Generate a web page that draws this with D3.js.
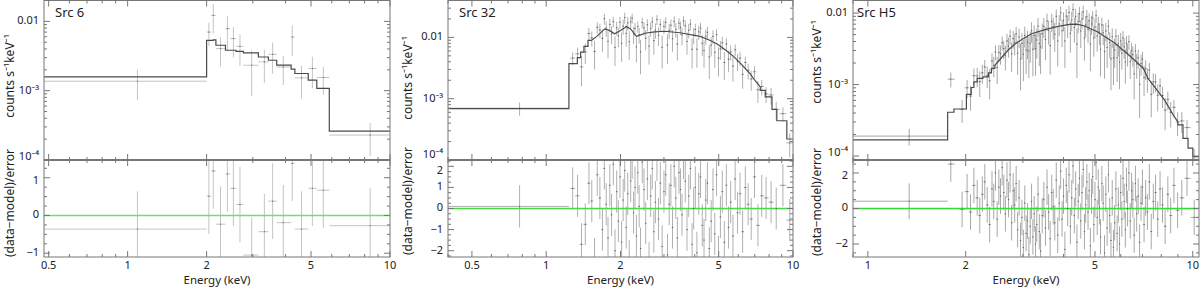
<!DOCTYPE html>
<html>
<head>
<meta charset="utf-8">
<script src="https://cdn.jsdelivr.net/npm/d3@7"></script>
<style>
  body { margin: 0; background: #fff; }
  text { font-family: "Noto Sans", sans-serif; fill: #222; }
</style>
</head>
<body>
<svg id="chart" width="1200" height="287"></svg>
<script>
// Rates are in units of 1e-3 counts s^-1 keV^-1

// ---- Src 6: [eLo, eHi, E, rate, err, resid] ----
const src6Bins = [
  [0.48, 2.0, 1.09, 1.37, 0.64, -0.36],
  [2.0, 2.08, 2.04, 7.0, 2.6, 0.51],
  [2.08, 2.17, 2.12, 12.2, 5.5, 1.18],
  [2.17, 2.36, 2.26, 4.04, 1.8, -0.23],
  [2.36, 2.46, 2.40, 7.85, 4.0, 1.10],
  [2.46, 2.59, 2.53, 5.64, 2.6, 0.72],
  [2.59, 2.76, 2.68, 4.37, 2.1, 0.29],
  [2.76, 3.15, 2.97, 2.33, 1.5, -1.05],
  [3.15, 3.44, 3.32, 2.60, 1.3, -0.43],
  [3.44, 3.70, 3.57, 3.35, 1.6, 0.38],
  [3.70, 4.20, 3.92, 2.20, 1.0, -0.19],
  [4.20, 4.34, 4.24, 5.94, 2.8, 1.38],
  [4.34, 4.88, 4.60, 1.53, 0.76, -0.36],
  [4.88, 5.26, 5.06, 2.09, 1.0, 0.72],
  [5.26, 5.87, 5.57, 1.55, 0.67, 0.67],
  [5.87, 10.0, 8.4, 0.229, 0.115, -0.27]
];
// model steps [eLo, value]
const src6Model = [[0.48, 1.58], [2.0, 5.33], [2.12, 5.4], [2.17, 4.52], [2.36, 3.83], [2.59, 3.7],
  [2.76, 3.5], [3.15, 3.06], [3.44, 2.75], [3.70, 2.33], [4.20, 2.04], [4.34, 1.77], [4.88, 1.42],
  [5.26, 1.08], [5.87, 0.261]];

// ---- Src 32 ----
const src32Wide = [[0.4, 1.236, 0.78, 0.70, 0.17, 0.1]];
const src32E = [1.28,1.34,1.39,1.44,1.49,1.53,1.57,1.61,1.65,1.69,
  1.72,1.75,1.78,1.81,1.84,1.87,1.90,1.93,1.96,1.99,
  2.02,2.05,2.08,2.11,2.14,2.17,2.20,2.23,2.26,2.29,
  2.32,2.35,2.38,2.41,2.45,2.49,2.53,2.57,2.61,2.65,
  2.69,2.73,2.77,2.81,2.85,2.90,2.95,3.00,3.05,3.10,
  3.15,3.20,3.25,3.30,3.35,3.40,3.45,3.50,3.55,3.60,
  3.66,3.72,3.78,3.84,3.90,3.96,4.02,4.08,4.15,4.22,
  4.29,4.36,4.43,4.50,4.58,4.66,4.74,4.82,4.90,4.99,
  5.08,5.17,5.27,5.37,5.48,5.59,5.71,5.83,5.96,6.10,
  6.25,6.41,6.58,6.77,6.98,7.21,7.47,7.78,8.15,8.55,
  9.1,9.7];
const src32Rate = [4.6,5.4,3.3,5.8,11.6,9.8,5.9,14.6,13.2,9.6,
  20.2,14.2,8.6,16.3,11.4,18.1,6.9,14.4,10.6,17.7,
  8.0,15.3,21.0,11.6,17.3,8.5,18.0,20.5,11.4,14.0,
  7.0,15.1,11.1,5.8,17.5,14.2,9.7,16.1,7.2,13.9,
  18.0,8.9,13.2,19.5,10.9,16.3,6.9,15.1,17.6,7.5,
  13.0,15.8,9.5,18.3,13.6,7.8,17.0,14.6,10.9,18.7,
  15.4,8.6,13.1,16.5,6.4,11.0,13.5,6.4,12.3,14.2,
  8.0,6.1,10.5,12.1,4.8,7.5,10.4,5.7,11.1,4.6,
  6.5,8.2,3.9,7.8,4.4,5.8,3.4,6.3,4.1,4.6,
  2.5,3.9,2.9,2.1,2.75,1.4,1.58,1.2,1.15,0.67,
  0.57,0.19];
const src32Err = [1.1,1.4,1.7,2.1,2.7,2.7,2.9,3.1,3.5,3.8,
  4.1,4.0,4.0,3.8,3.7,3.6,3.5,3.6,3.7,3.9,
  4.0,4.2,4.3,4.5,4.4,4.2,4.1,3.8,3.6,3.4,
  3.1,3.2,3.2,3.3,3.4,3.5,3.5,3.6,3.6,3.6,
  3.7,3.7,3.7,3.7,3.7,3.7,3.8,3.8,3.8,3.8,
  3.7,3.7,3.7,3.7,3.6,3.6,3.6,3.6,3.5,3.5,
  3.5,3.4,3.4,3.4,3.3,3.3,3.2,3.2,3.2,3.1,
  3.0,2.9,2.9,2.8,2.7,2.6,2.6,2.5,2.4,2.3,
  2.2,2.0,1.9,1.8,1.7,1.6,1.5,1.4,1.3,1.2,
  1.05,0.95,0.85,0.75,0.65,0.55,0.45,0.35,0.35,0.22,
  0.15,0.08];
const src32Resid = [0.95,0.6,-1.7,-0.75,1.2,0.35,-2.4,1.6,0.5,-1.0,
  1.9,0.2,-1.4,1.1,-0.3,2.1,-2.0,0.8,-0.6,1.5,
  -1.6,0.4,1.8,-0.9,0.7,-2.5,1.3,2.4,-0.2,1.0,
  -1.3,1.7,0.1,-1.9,2.2,0.9,-0.7,1.4,-2.6,0.6,
  1.9,-1.1,0.3,2.3,-0.5,1.2,-1.8,0.8,1.6,-2.2,
  0.2,1.1,-0.9,2.0,0.5,-1.4,1.7,0.9,-0.3,2.4,
  1.3,-1.0,0.6,1.9,-1.7,0.0,1.0,-2.1,0.7,1.5,
  -0.8,-1.5,0.4,1.2,-1.9,-0.6,0.9,-1.2,1.6,-2.3,
  -0.4,0.8,-1.6,1.1,-0.9,0.3,-1.3,1.4,-0.2,0.7,
  -1.1,1.0,0.2,-0.5,1.5,-0.8,0.6,0.5,0.3,0.0,
  1.1,-0.55];
const src32ModelHead = [[0.4, 0.69], [1.236, 3.73], [1.337, 4.68], [1.379, 5.77], [1.422, 7.14], [1.477, 8.93]];
const src32ModelSmooth = [[1.524, 8.93], [1.60, 10.3], [1.726, 13.8], [1.80, 13.0], [1.895, 11.5], [2.0, 13.0],
  [2.115, 15.1], [2.2, 13.6], [2.32, 10.4], [2.4, 10.9], [2.51, 11.7], [2.75, 12.3], [3.02, 12.6],
  [3.48, 11.9], [4.2, 10.4], [4.6, 9.0], [4.91, 7.9], [5.31, 6.3], [5.74, 4.9], [6.2, 3.6],
  [6.71, 2.55], [7.0, 2.0], [7.37, 1.56]];
const src32ModelTail = [[7.37, 1.37], [7.72, 1.07], [8.22, 0.67], [8.6, 0.437], [9.44, 0.22]];

// ---- Src H5 ----
const h5Wide = [[0.9, 1.76, 1.34, 0.19, 0.05, 0.41], [1.76, 1.85, 1.80, 1.19, 0.28, 2.5]];
const h5E = [1.95,2.02,2.07,2.12,2.17,2.21,2.25,2.29,2.33,2.37,
  2.41,2.44,2.47,2.50,2.53,2.56,2.59,2.62,2.65,2.68,
  2.71,2.74,2.77,2.80,2.83,2.86,2.89,2.92,2.95,2.98,
  3.01,3.04,3.07,3.10,3.13,3.16,3.19,3.22,3.25,3.28,
  3.31,3.34,3.37,3.40,3.44,3.48,3.52,3.56,3.60,3.64,
  3.68,3.72,3.76,3.80,3.84,3.88,3.92,3.96,4.00,4.04,
  4.08,4.12,4.16,4.20,4.24,4.28,4.32,4.36,4.40,4.44,
  4.48,4.52,4.56,4.60,4.64,4.68,4.72,4.76,4.80,4.84,
  4.88,4.92,4.96,5.00,5.04,5.08,5.12,5.16,5.20,5.25,
  5.30,5.35,5.40,5.45,5.50,5.55,5.60,5.65,5.70,5.75,
  5.80,5.85,5.90,5.95,6.00,6.05,6.10,6.15,6.20,6.25,
  6.30,6.36,6.42,6.48,6.54,6.60,6.66,6.72,6.79,6.86,
  6.93,7.00,7.08,7.16,7.25,7.35,7.45,7.56,7.68,7.80,
  7.93,8.07,8.22,8.38,8.55,8.75,8.98,9.25,9.6,10.1];
const h5Rate = [0.45,0.90,0.69,1.33,1.32,1.10,1.46,1.76,1.34,1.13,
  2.14,1.85,2.85,1.73,2.82,2.70,3.84,3.19,2.54,4.07,
  3.45,4.75,2.69,4.39,3.84,5.12,2.74,4.65,2.29,3.75,
  2.65,4.88,3.03,3.94,2.95,3.77,5.67,3.13,4.88,3.2,
  4.20,6.58,3.75,3.37,5.14,6.51,4.26,7.75,5.74,3.52,
  7.60,6.44,5.08,9.0,4.07,7.06,10.1,5.67,7.91,4.07,
  9.05,6.89,10.2,5.22,8.02,11.2,6.28,8.91,3.68,7.63,
  9.79,5.62,8.26,10.4,4.47,6.86,8.84,6.00,7.78,3.67,
  7.06,8.56,4.49,6.40,9.21,4.80,6.99,5.41,3.11,6.83,
  5.30,2.89,5.63,3.31,6.55,3.88,2.30,4.68,2.36,3.06,
  4.74,2.36,3.71,2.06,4.09,2.75,4.49,3.36,2.07,3.79,
  2.76,3.98,2.09,3.01,2.61,1.41,2.94,1.94,2.37,1.01,
  1.97,2.26,1.26,1.67,1.22,1.60,0.73,1.09,1.09,0.71,
  0.96,0.70,0.44,0.62,0.41,0.48,0.30,0.31,0.25,0.086];
const h5Err = [0.16,0.26,0.26,0.35,0.40,0.43,0.43,0.45,0.45,0.51,
  0.59,0.59,0.67,0.71,0.76,0.81,0.85,0.91,0.96,1.02,
  1.07,1.13,1.18,1.23,1.28,1.33,1.37,1.41,1.46,1.50,
  1.54,1.59,1.63,1.67,1.72,1.76,1.80,1.83,1.85,1.87,
  1.90,1.92,1.94,1.97,2.0,2.03,2.06,2.09,2.11,2.14,
  2.17,2.20,2.22,2.25,2.28,2.30,2.32,2.33,2.36,2.37,
  2.39,2.41,2.43,2.44,2.44,2.44,2.44,2.45,2.45,2.43,
  2.40,2.38,2.36,2.34,2.32,2.29,2.25,2.21,2.18,2.14,
  2.10,2.07,2.03,1.99,1.95,1.92,1.88,1.85,1.81,1.77,
  1.73,1.68,1.64,1.60,1.55,1.51,1.47,1.42,1.38,1.34,
  1.30,1.27,1.24,1.20,1.17,1.13,1.10,1.07,1.04,1.0,
  0.97,0.93,0.89,0.84,0.81,0.79,0.76,0.74,0.71,0.67,
  0.64,0.61,0.57,0.51,0.45,0.41,0.38,0.35,0.31,0.29,
  0.26,0.23,0.21,0.18,0.16,0.13,0.11,0.10,0.07,0.04];
const h5Resid = [-0.05,0.95,-0.2,1.3,0.6,-0.4,0.8,1.5,0.2,-0.9,
  1.1,0.4,2.0,-0.6,1.2,0.7,2.3,0.9,-0.3,1.6,
  0.5,1.9,-0.8,1.0,0.2,1.4,-1.2,0.6,-1.8,-0.5,
  -2.2,0.3,-1.4,-0.7,-2.6,-1.0,0.4,-1.6,-0.3,-2.0,
  -0.9,0.8,-1.3,-2.4,-0.4,0.5,-1.1,1.2,-0.2,-1.7,
  0.9,0.1,-0.8,1.6,-1.5,0.3,2.1,-0.6,0.7,-2.3,
  1.3,0.0,1.9,-1.0,0.6,2.4,-0.4,1.1,-1.9,0.4,
  1.7,-0.7,0.9,2.2,-1.3,0.2,1.5,-0.2,1.0,-2.1,
  0.7,1.8,-0.9,0.5,2.6,-0.5,1.2,0.1,-1.6,1.4,
  0.3,-2.5,0.8,-1.1,1.9,-0.4,-1.8,0.6,-2.2,-0.8,
  1.1,-1.4,0.2,-2.0,0.9,-0.6,1.7,0.4,-1.2,1.3,
  0.0,2.0,-0.7,1.0,0.5,-1.5,1.4,-0.3,0.7,-1.9,
  0.3,1.2,-0.9,0.6,-0.2,1.5,-1.3,0.4,0.9,-0.6,
  1.1,0.2,-1.0,0.8,-0.4,1.3,-0.1,0.6,1.7,-0.5];
const h5ModelHead = [[0.9, 0.168], [1.76, 0.41], [1.84, 0.455], [2.01, 0.73], [2.08, 0.91], [2.12, 1.09],
  [2.17, 1.22], [2.26, 1.28], [2.35, 1.46], [2.40, 1.68]];
const h5ModelSmooth = [[2.46, 1.86], [2.58, 2.39], [2.70, 3.02], [2.83, 3.66], [2.97, 4.25], [3.19, 5.15],
  [3.51, 5.86], [3.85, 6.53], [4.17, 6.95], [4.4, 7.0], [4.65, 6.6], [5.1, 5.43], [5.75, 3.82],
  [6.46, 2.43], [7.05, 1.68], [7.28, 1.22], [7.7, 0.88], [8.19, 0.605], [8.77, 0.355], [9.0, 0.30]];
const h5ModelTail = [[9.0, 0.272], [9.33, 0.177], [9.67, 0.129], [10.0, 0.098]];

const svg = d3.select("#chart");
const defs = svg.append("defs");

// turn step lists into polyline vertices
function stepPoints(steps, endE) {
  const out = [];
  steps.forEach((s, i) => {
    const e2 = i < steps.length - 1 ? steps[i + 1][0] : endE;
    out.push([s[0], s[1]], [e2, s[1]]);
  });
  return out;
}

// bins from neighbouring channel centres
function denseBins(E, rate, err, resid) {
  return E.map((e, i) => {
    const prev = i > 0 ? E[i - 1] : e * e / E[i + 1];
    const next = i < E.length - 1 ? E[i + 1] : e * e / E[i - 1];
    return { lo: Math.sqrt(prev * e), hi: Math.sqrt(e * next), e: e, rate: rate[i], err: err[i], r: resid[i] };
  });
}

function wideBins(rows) {
  return rows.map(d => ({ lo: d[0], hi: d[1], e: d[2], rate: d[3], err: d[4], r: d[5] }));
}

function logTicks(domain) {
  const t = [];
  for (let k = -5; k <= 1; k++) {
    for (let m = 1; m <= 9; m++) {
      const v = m * Math.pow(10, k);
      if (v >= domain[0] * 0.9999 && v <= domain[1] * 1.0001) t.push(v);
    }
  }
  return t;
}

function drawPanel(p) {
  const yMid = 160, yBot = 257, yTopEdge = 0.5;
  const x = d3.scaleLog().domain(p.xDomain).range([p.left, p.right]);
  const y = d3.scaleLog().domain(p.yDomain).range([yMid, yTopEdge]);
  const yr = d3.scaleLinear().domain(p.rDomain).range([yBot, yMid]);

  defs.append("clipPath").attr("id", "ct" + p.id).append("rect")
    .attr("x", p.left).attr("y", yTopEdge).attr("width", p.right - p.left).attr("height", yMid - yTopEdge);
  defs.append("clipPath").attr("id", "cr" + p.id).append("rect")
    .attr("x", p.left).attr("y", yMid).attr("width", p.right - p.left).attr("height", yBot - yMid);

  const g = svg.append("g");
  const top = g.append("g").attr("clip-path", `url(#ct${p.id})`);
  const res = g.append("g").attr("clip-path", `url(#cr${p.id})`);

  p.bins.forEach(d => {
    const v = d.rate * 1e-3;
    const up = (d.rate + d.err) * 1e-3;
    const lo = Math.max(d.rate - d.err, d.rate * 0.02) * 1e-3;
    top.append("line").attr("x1", x(d.lo)).attr("x2", x(d.hi)).attr("y1", y(v)).attr("y2", y(v))
      .attr("stroke", p.barColor).attr("stroke-width", 1);
    top.append("line").attr("x1", x(d.e)).attr("x2", x(d.e)).attr("y1", y(up)).attr("y2", y(lo))
      .attr("stroke", p.barColor).attr("stroke-width", 1);
    res.append("line").attr("x1", x(d.lo)).attr("x2", x(d.hi)).attr("y1", yr(d.r)).attr("y2", yr(d.r))
      .attr("stroke", p.barColor).attr("stroke-width", 1);
    res.append("line").attr("x1", x(d.e)).attr("x2", x(d.e)).attr("y1", yr(d.r + 1)).attr("y2", yr(d.r - 1))
      .attr("stroke", p.barColor).attr("stroke-width", 1);
  });

  // zero line in residual panel
  res.append("line")
    .attr("x1", p.left).attr("x2", p.right)
    .attr("y1", yr(0)).attr("y2", yr(0))
    .attr("stroke", p.green).attr("stroke-width", 1.6);

  // small dark centre marks
  p.bins.forEach(d => {
    top.append("rect").attr("x", x(d.e) - 0.5).attr("y", y(d.rate * 1e-3) - 0.5)
      .attr("width", 1).attr("height", 1).attr("fill", "#555");
    res.append("rect").attr("x", x(d.e) - 0.5).attr("y", yr(d.r) - 0.5)
      .attr("width", 1).attr("height", 1).attr("fill", "#555");
  });

  // model
  const line = d3.line().x(d => x(d[0])).y(d => y(d[1] * 1e-3));
  top.append("path")
    .datum(p.model)
    .attr("fill", "none")
    .attr("stroke", "#4a4a4a")
    .attr("stroke-width", 1.2)
    .attr("d", line);

  // frames
  const frame = "#777";
  g.append("rect").attr("x", p.left).attr("y", yTopEdge).attr("width", p.right - p.left)
    .attr("height", yMid - yTopEdge).attr("fill", "none").attr("stroke", frame);
  g.append("rect").attr("x", p.left).attr("y", yMid).attr("width", p.right - p.left)
    .attr("height", yBot - yMid).attr("fill", "none").attr("stroke", frame);
  g.append("line").attr("x1", p.left).attr("x2", p.right).attr("y1", yMid).attr("y2", yMid)
    .attr("stroke", frame).attr("stroke-width", 2);

  // x ticks on every horizontal edge
  const xt = logTicks(p.xDomain);
  const edges = [[yTopEdge, 1], [yMid, -1], [yMid, 1], [yBot, -1]];
  xt.forEach(v => {
    const major = p.xLabels.some(l => Math.abs(l - v) < 1e-9);
    const len = major ? 6 : 3;
    edges.forEach(([ey, dir]) => {
      g.append("line").attr("x1", x(v)).attr("x2", x(v)).attr("y1", ey).attr("y2", ey + dir * len)
        .attr("stroke", frame);
    });
  });
  p.xLabels.forEach(v => {
    g.append("text").attr("x", x(v)).attr("y", 268.5).attr("text-anchor", "middle")
      .attr("font-size", 11).text(String(v));
  });

  // y ticks, top panel
  logTicks(p.yDomain).forEach(v => {
    const major = Math.abs(Math.log10(v) - Math.round(Math.log10(v))) < 1e-9;
    const len = major ? 6 : 3;
    [[p.left, 1], [p.right, -1]].forEach(([ex, dir]) => {
      g.append("line").attr("x1", ex).attr("x2", ex + dir * len).attr("y1", y(v)).attr("y2", y(v))
        .attr("stroke", frame);
    });
  });
  p.yLabels.forEach(l => {
    g.append("text").attr("x", p.left - 5).attr("y", y(l[0]) - (l[0] < 2e-4 ? p.edgeNudge : 0))
      .attr("text-anchor", "end")
      .attr("dominant-baseline", "middle").attr("font-size", 11).text(l[1]);
  });

  // y ticks, residual panel
  const rt = d3.range(Math.ceil(p.rDomain[0] / p.rMinor) * p.rMinor, p.rDomain[1], p.rMinor);
  rt.forEach(v => {
    const major = p.rLabels.some(l => Math.abs(l - v) < 1e-6);
    const len = major ? 6 : 3;
    [[p.left, 1], [p.right, -1]].forEach(([ex, dir]) => {
      g.append("line").attr("x1", ex).attr("x2", ex + dir * len).attr("y1", yr(v)).attr("y2", yr(v))
        .attr("stroke", frame);
    });
  });
  p.rLabels.forEach(v => {
    g.append("text").attr("x", p.left - 5)
      .attr("y", yr(v) + (v === p.rLabels[p.rLabels.length - 1] ? p.edgeNudge : 0))
      .attr("text-anchor", "end")
      .attr("dominant-baseline", "middle").attr("font-size", 11)
      .text(v < 0 ? "\u2212" + Math.abs(v) : String(v));
  });

  // labels
  g.append("text").attr("x", p.titleX).attr("y", 17).attr("font-size", 13).attr("fill", "#111").text(p.title);
  g.append("text").attr("x", (p.left + p.right) / 2).attr("y", 284).attr("text-anchor", "middle")
    .attr("font-size", 11.5).text("Energy (keV)");
  g.append("text").attr("transform", `translate(${p.ylabX},${p.ylabTopY}) rotate(-90)`)
    .attr("text-anchor", "middle").attr("font-size", 12).text("counts s\u207B\u00B9keV\u207B\u00B9");
  g.append("text").attr("transform", `translate(${p.ylabX},${p.ylabResY}) rotate(-90)`)
    .attr("text-anchor", "middle").attr("font-size", 12).text("(data\u2212model)/error");
}

const yTickLabels = [[1e-2, "0.01"], [1e-3, "10\u207B\u00B3"], [1e-4, "10\u207B\u2074"]];

drawPanel({
  id: 1, left: 44, right: 390,
  xDomain: [0.48, 10], yDomain: [1e-4, 0.02], rDomain: [-1.1, 1.47],
  xLabels: [0.5, 1, 2, 5, 10], yLabels: yTickLabels, rLabels: [-1, 0, 1], rMinor: 0.25,
  bins: src6Bins.map(d => ({ lo: d[0], hi: d[1], e: d[2], rate: d[3], err: d[4], r: d[5] })),
  model: stepPoints(src6Model, 10), edgeNudge: 3,
  title: "Src 6", titleX: 55, ylabX: 14, ylabTopY: 76, ylabResY: 203,
  green: "#70dd70", barColor: "#c4c4c4"
});

drawPanel({
  id: 2, left: 448, right: 793,
  xDomain: [0.4, 10], yDomain: [1e-4, 0.04], rDomain: [-2.3, 2.3],
  xLabels: [0.5, 1, 2, 5, 10], yLabels: yTickLabels, rLabels: [-2, -1, 0, 1, 2], rMinor: 0.25,
  bins: wideBins(src32Wide).concat(denseBins(src32E, src32Rate, src32Err, src32Resid)),
  model: stepPoints(src32ModelHead, src32ModelSmooth[0][0])
    .concat(src32ModelSmooth, stepPoints(src32ModelTail, 10)), edgeNudge: 4.5,
  title: "Src 32", titleX: 459, ylabX: 412, ylabTopY: 78, ylabResY: 201,
  green: "#44dd44", barColor: "#b0b0b0"
});

drawPanel({
  id: 3, left: 853, right: 1199,
  xDomain: [0.9, 10.45], yDomain: [8.8e-5, 0.015], rDomain: [-2.73, 2.73],
  xLabels: [1, 2, 5, 10], yLabels: yTickLabels, rLabels: [-2, 0, 2], rMinor: 0.5,
  bins: wideBins(h5Wide).concat(denseBins(h5E, h5Rate, h5Err, h5Resid)),
  model: stepPoints(h5ModelHead, h5ModelSmooth[0][0])
    .concat(h5ModelSmooth, stepPoints(h5ModelTail, 10.45)), edgeNudge: 3,
  title: "Src H5", titleX: 857, ylabX: 821, ylabTopY: 62, ylabResY: 202,
  green: "#33dd33", barColor: "#a8a8a8"
});
</script>
</body>
</html>
